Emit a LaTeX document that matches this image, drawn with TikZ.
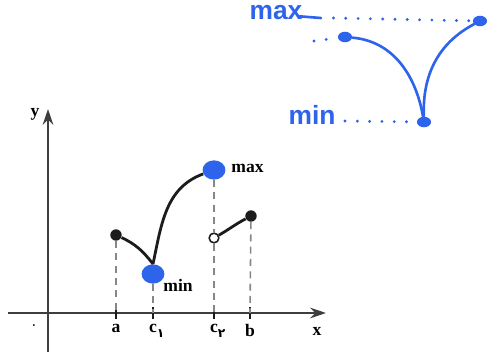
\documentclass[tikz,border=0pt]{standalone}
\usepackage{fontspec}
\setmainfont{Liberation Serif}
\setsansfont{Liberation Sans}
\newfontfamily\persianfont[Script=Arabic]{DejaVu Sans}
\usetikzlibrary{positioning, arrows.meta, shapes.geometric}
\definecolor{inkblue}{RGB}{45,100,235}
\definecolor{curvedark}{RGB}{28,28,28}
\definecolor{guidegray}{RGB}{135,135,135}
\tikzset{
  axis/.style={-{Stealth[length=9pt,width=6pt]}, line width=0.9pt, curvedark!85},
  curve/.style={line width=1.6pt, curvedark},
  guide/.style={dash pattern=on 4pt off 3pt, line width=0.9pt, guidegray},
  tick/.style={line width=0.9pt, curvedark},
  dotfill/.style={circle, fill=curvedark, inner sep=0pt, minimum size=6.5pt},
  dotopen/.style={circle, draw=curvedark, fill=white, line width=0.9pt, inner sep=0pt, minimum size=5.5pt},
  extreme/.style={ellipse, fill=inkblue, inner sep=0pt, minimum width=13pt, minimum height=11pt},
  lbl/.style={font=\bfseries, inner sep=1pt},
  hand/.style={inkblue, line width=1.5pt, line cap=round},
  handdots/.style={inkblue, line width=1.8pt, line cap=round, dash pattern=on 0pt off 7pt},
  handdot/.style={ellipse, fill=inkblue, inner sep=0pt, minimum width=8pt, minimum height=6pt},
  handtext/.style={inkblue, font=\sffamily\bfseries\fontsize{15}{18}\selectfont, inner sep=1pt}
}

\begin{document}
\begin{tikzpicture}
  \useasboundingbox (0,0) rectangle (9.8,7.12);
  % axes
  \coordinate (xs) at (0.16,0.86);
  \coordinate (xe) at (6.52,0.86);
  \coordinate (ys) at (0.96,0.08);
  \coordinate (ye) at (0.96,4.94);
  \draw[axis] (xs) -- (xe);
  \draw[axis] (ys) -- (ye);
  \node[lbl] (xl) at (6.34,0.5) {x};
  \node[lbl] (yl) at (0.7,4.84) {y};
  \node[lbl, font=\footnotesize] (ol) at (0.68,0.58) {\persianfont ۰};

  % ticks on the x axis
  \coordinate (ta) at (2.32,0.86);
  \coordinate (tc1) at (3.06,0.86);
  \coordinate (tc2) at (4.28,0.86);
  \coordinate (tb) at (5.00,0.86);
  \foreach \t in {ta, tc1, tc2, tb}
    \draw[tick] ([yshift=-3.5pt]\t) -- ([yshift=3.5pt]\t);
  \node[lbl, below=5pt of ta] (la) {a};
  \node[lbl, below=5pt of tc1] (lc1) {c\rlap{\raisebox{-3pt}{\persianfont\scriptsize ۱}}};
  \node[lbl, below=5pt of tc2] (lc2) {c\rlap{\raisebox{-3pt}{\persianfont\scriptsize ۲}}};
  \node[lbl, below=5pt of tb] (lb) {b};

  % points of the function
  \node[dotfill] (pa) at (2.32,2.42) {};
  \node[extreme] (pmin) at (3.06,1.64) {};
  \node[extreme] (pmax) at (4.28,3.72) {};
  \node[dotopen] (pc) at (4.28,2.36) {};
  \node[dotfill] (pb) at (5.02,2.80) {};
  \node[lbl, right=2pt of pmax, yshift=1pt] (lmax) {max};
  \node[lbl, below right=-2pt and 0pt of pmin] (lmin) {min};

  % dashed guides
  \draw[guide] (pa) -- (ta);
  \draw[guide] (pmin) -- (tc1);
  \draw[guide] (pmax) -- (pc);
  \draw[guide] (pc) -- (tc2);
  \draw[guide] (pb) -- (tb);

  % the graph
  \draw[curve] (pa) to[out=-25, in=128] (pmin.north);
  \draw[curve] (pmin.north) to[out=78, in=200] (pmax);
  \draw[curve] (pc) to[out=30, in=208] (pb);

  % handwritten sketch
  \node[handtext] (hmax) at (5.52,6.86) {max};
  \node[handtext] (hmin) at (6.24,4.82) {min};
  \node[handdot] (hl) at (6.9,6.38) {};
  \node[handdot] (hr) at (9.6,6.7) {};
  \node[handdot] (hb) at (8.48,4.68) {};
  \coordinate (hmaxend) at (6.42,6.76);
  \coordinate (hlstart) at (6.28,6.3);
  \draw[hand] (hmax.south east) ++(-0.1,0.12) -- (hmaxend);
  \draw[handdots] (hmaxend) ++(0.25,0) -- (hr);
  \draw[handdots] (hlstart) -- (hl);
  \draw[handdots] (hmin.east) ++(0.15,-0.12) -- (hb);
  \draw[hand] (hl) to[out=-5, in=100] (hb);
  \draw[hand] (hb) to[out=92, in=208] (hr);
\end{tikzpicture}
\end{document}
